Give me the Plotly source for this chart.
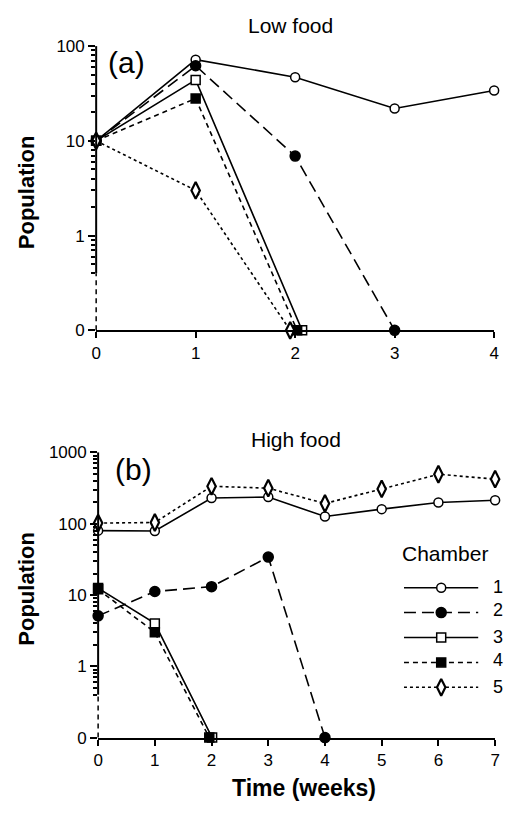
import numpy as np
import plotly.graph_objects as go

# ---------------- data ----------------
chambers = ["1", "2", "3", "4", "5"]

# Panel (a) Low food: weeks and populations (0 plotted at 0.1)
a_x1 = [0, 1, 2, 3, 4]
a_y1 = [10, 72, 47, 22, 34]
a_x2 = [0, 1, 2, 3]
a_y2 = [10, 62, 6.9, 0.1]
a_x3 = [0, 1, 2.07]
a_y3 = [10, 44, 0.1]
a_x4 = [0, 1, 2.02]
a_y4 = [10, 28, 0.1]
a_x5 = [0, 1, 1.95]
a_y5 = [10, 3.0, 0.1]

# Panel (b) High food
b_x1 = [0, 1, 2, 3, 4, 5, 6, 7]
b_y1 = [80, 79, 229, 237, 126, 160, 198, 213]
b_x2 = [0, 1, 2, 3, 4]
b_y2 = [5.1, 11.2, 13.1, 34, 0.1]
b_x3 = [0, 1, 2.01]
b_y3 = [12.5, 4.0, 0.1]
b_x4 = [0, 1, 1.96]
b_y4 = [12, 3.0, 0.1]
b_x5 = [0, 1, 2, 3, 4, 5, 6, 7]
b_y5 = [102, 104, 335, 315, 192, 308, 494, 422]

a_ticks = [0.1, 1, 10, 100]
a_ticktext = ["0", "1", "10", "100"]
b_ticks = [0.1, 1, 10, 100, 1000]
b_ticktext = ["0", "1", "10", "100", "1000"]
minor_a = [0.4, 0.5, 0.6, 0.7, 0.8, 0.9] + [k * 10 ** e for e in range(0, 2) for k in range(2, 10)]
minor_b = [0.4, 0.5, 0.6, 0.7, 0.8, 0.9] + [k * 10 ** e for e in range(0, 3) for k in range(2, 10)]

# ---------------- styles ----------------
FONT = "Liberation Sans, Arial, sans-serif"
W, H = 506, 815
styles = {
    "1": dict(dash="solid", symbol="circle", color="white", size=9, lw=1.5),
    "2": dict(dash="12px,6px", symbol="circle", color="black", size=10, lw=1.5),
    "3": dict(dash="solid", symbol="square", color="white", size=9, lw=1.5),
    "4": dict(dash="5px,4px", symbol="square", color="black", size=9, lw=1.5),
    "5": dict(dash="dot", symbol="diamond-tall", color="white", size=12, lw=2.2),
}

fig = go.Figure()

def add(x, y, ch, xa, ya):
    s = styles[ch]
    fig.add_trace(go.Scatter(
        x=x, y=y, mode="lines+markers", xaxis=xa, yaxis=ya, showlegend=False,
        line=dict(color="black", width=1.6, dash=s["dash"]),
        marker=dict(symbol=s["symbol"], size=s["size"], color=s["color"],
                    line=dict(color="black", width=s["lw"])),
        cliponaxis=False, name=ch))

panel_a = [(a_x1, a_y1), (a_x2, a_y2), (a_x3, a_y3), (a_x4, a_y4), (a_x5, a_y5)]
panel_b = [(b_x1, b_y1), (b_x2, b_y2), (b_x3, b_y3), (b_x4, b_y4), (b_x5, b_y5)]
for ch, (x, y) in zip(chambers, panel_a):
    add(x, y, ch, "x", "y")
for ch, (x, y) in zip(chambers, panel_b):
    add(x, y, ch, "x2", "y2")

# legend samples on a hidden helper axis
for i, ch in enumerate(chambers):
    s = styles[ch]
    fig.add_trace(go.Scatter(x=[0, 1], y=[i + 1, i + 1], mode="lines", xaxis="x3", yaxis="y3",
                             showlegend=False, line=dict(color="black", width=1.5, dash=s["dash"]),
                             cliponaxis=False))
    fig.add_trace(go.Scatter(x=[0.5], y=[i + 1], mode="markers", xaxis="x3", yaxis="y3",
                             showlegend=False, cliponaxis=False,
                             marker=dict(symbol=s["symbol"], size=s["size"], color=s["color"],
                                         line=dict(color="black", width=s["lw"]))))

def px_x(p):
    return p / W

def px_y(p):
    return 1 - p / H

tickfont = dict(family=FONT, size=17, color="black")
common_x = dict(showline=True, linecolor="black", linewidth=2, ticks="outside", ticklen=6,
                tickwidth=1.5, tickcolor="black", showgrid=False, zeroline=False,
                tickfont=tickfont, dtick=1, tick0=0)
common_y = dict(type="log", showline=False, ticks="outside", ticklen=7, tickwidth=1.5,
                tickcolor="black", showgrid=False, zeroline=False, tickfont=tickfont,
                tickmode="array")

fig.update_layout(
    width=W, height=H, margin=dict(l=0, r=0, t=0, b=0),
    paper_bgcolor="white", plot_bgcolor="white",
    font=dict(family=FONT, color="black"),
    xaxis=dict(domain=[px_x(93), px_x(499)], range=[0, 4], anchor="y", **common_x),
    yaxis=dict(domain=[px_y(329), px_y(38)], range=[-1, 2], anchor="x",
               tickvals=a_ticks, ticktext=a_ticktext,
               minor=dict(tickmode="array", tickvals=minor_a, ticks="outside", ticklen=4,
                          tickwidth=1.5, tickcolor="black", showgrid=False),
               **common_y),
    xaxis2=dict(domain=[px_x(95), px_x(500)], range=[0, 7], anchor="y2", **common_x),
    yaxis2=dict(domain=[px_y(746), px_y(454)], range=[-1, 3], anchor="x2",
                tickvals=b_ticks, ticktext=b_ticktext,
                minor=dict(tickmode="array", tickvals=minor_b, ticks="outside", ticklen=4,
                           tickwidth=1.5, tickcolor="black", showgrid=False),
                **common_y),
    xaxis3=dict(domain=[px_x(407), px_x(483)], range=[0, 1], anchor="y3", visible=False),
    yaxis3=dict(domain=[px_y(707.25), px_y(579.75)], range=[5.5, 0.5], anchor="x3", visible=False),
)

# y-axis lines with a dashed break below 0.4
shapes = []
for xr, yr, lo, hi in [("x", "y", -1, 2), ("x2", "y2", -1, 3)]:
    frac = (np.log10(0.4) - lo) / (hi - lo)
    shapes.append(dict(type="line", xref=f"{xr} domain", yref=f"{yr} domain",
                       x0=0, x1=0, y0=frac, y1=1, line=dict(color="black", width=2)))
    shapes.append(dict(type="line", xref=f"{xr} domain", yref=f"{yr} domain",
                       x0=0, x1=0, y0=0, y1=frac, line=dict(color="black", width=1.5, dash="5px,4px")))
fig.update_layout(shapes=shapes)

ann = []
def text(t, x, y, size, bold=False, angle=0, xanchor="center"):
    ann.append(dict(text=f"<b>{t}</b>" if bold else t, x=px_x(x), y=px_y(y), xref="paper",
                    yref="paper", showarrow=False, font=dict(family=FONT, size=size, color="black"),
                    xanchor=xanchor, yanchor="middle", textangle=angle))

text("Low food", 291, 17, 21)
text("High food", 297, 441, 21)
text("(a)", 124, 55, 30)
text("(b)", 131, 472, 30)
text("Population", 22, 188, 22, bold=True, angle=-90)
text("Population", 22, 594, 22, bold=True, angle=-90)
text("Time (weeks)", 305, 798, 23, bold=True)
text("Chamber", 403, 558, 21, xanchor="left")
legend_y = [592, 615, 643, 667, 694]
for ch, yy in zip(chambers, legend_y):
    text(ch, 496, yy, 18, xanchor="left")
fig.update_layout(annotations=ann)

fig.write_html("out.html")
